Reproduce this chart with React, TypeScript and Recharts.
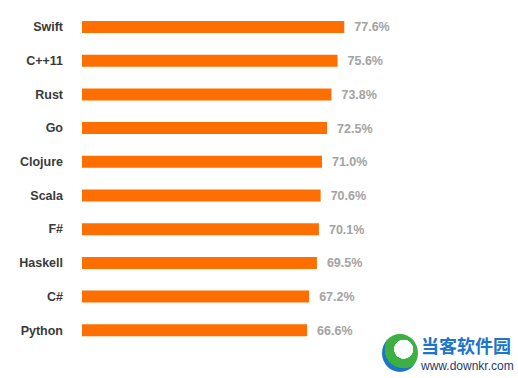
import { BarChart, Bar, XAxis, YAxis, LabelList } from 'recharts'

const languages = ['Swift', 'C++11', 'Rust', 'Go', 'Clojure', 'Scala', 'F#', 'Haskell', 'C#', 'Python']
const lovedPct = [77.6, 75.6, 73.8, 72.5, 71.0, 70.6, 70.1, 69.5, 67.2, 66.6]

const data = languages.map((name, i) => ({ name, value: lovedPct[i] }))

const FONT = '"Liberation Sans", Arial, Helvetica, sans-serif'

export default function App() {
  return (
    <div style={{ position: 'absolute', left: 0, top: 0, width: 518, height: 378, background: '#fff' }}>
      <BarChart
        width={518}
        height={378}
        data={data}
        layout="vertical"
        margin={{ top: 10, right: 98, bottom: 31, left: 0 }}
        barCategoryGap={0}
      >
        <XAxis type="number" domain={[0, 100]} hide />
        <YAxis
          type="category"
          dataKey="name"
          width={82}
          axisLine={false}
          tickLine={false}
          tickSize={0}
          tickMargin={19}
          tick={{ fill: '#3a3a3a', fontSize: 12.5, fontWeight: 700, fontFamily: FONT }}
        />
        <Bar dataKey="value" fill="#ff6e00" barSize={12} isAnimationActive={false}>
          <LabelList
            dataKey="value"
            position="right"
            offset={10}
            formatter={(v: number) => `${v.toFixed(1)}%`}
            style={{ fill: '#a3a3a3', fontSize: 12.5, fontWeight: 700, fontFamily: FONT }}
          />
        </Bar>
      </BarChart>
      {/* watermark in the corner */}
      <div
        style={{
          position: 'absolute',
          left: 382,
          top: 334,
          width: 36,
          height: 38,
          borderRadius: '50%',
          background: 'radial-gradient(circle at 60% 40%, #ffffff 0 30%, #3cb043 31% 60%, #1b75c9 61%)',
        }}
      />
      <div
        style={{
          position: 'absolute',
          left: 421,
          top: 336,
          fontFamily: '"Noto Sans CJK SC", sans-serif',
          fontWeight: 700,
          fontSize: 18,
          lineHeight: '19px',
          color: '#1b75c9',
          whiteSpace: 'nowrap',
        }}
      >
        当客软件园
      </div>
      <div
        style={{
          position: 'absolute',
          left: 421,
          top: 360,
          fontFamily: FONT,
          fontSize: 12,
          lineHeight: '13px',
          color: '#1f3a6e',
          whiteSpace: 'nowrap',
        }}
      >
        www.downkr.com
      </div>
    </div>
  )
}
